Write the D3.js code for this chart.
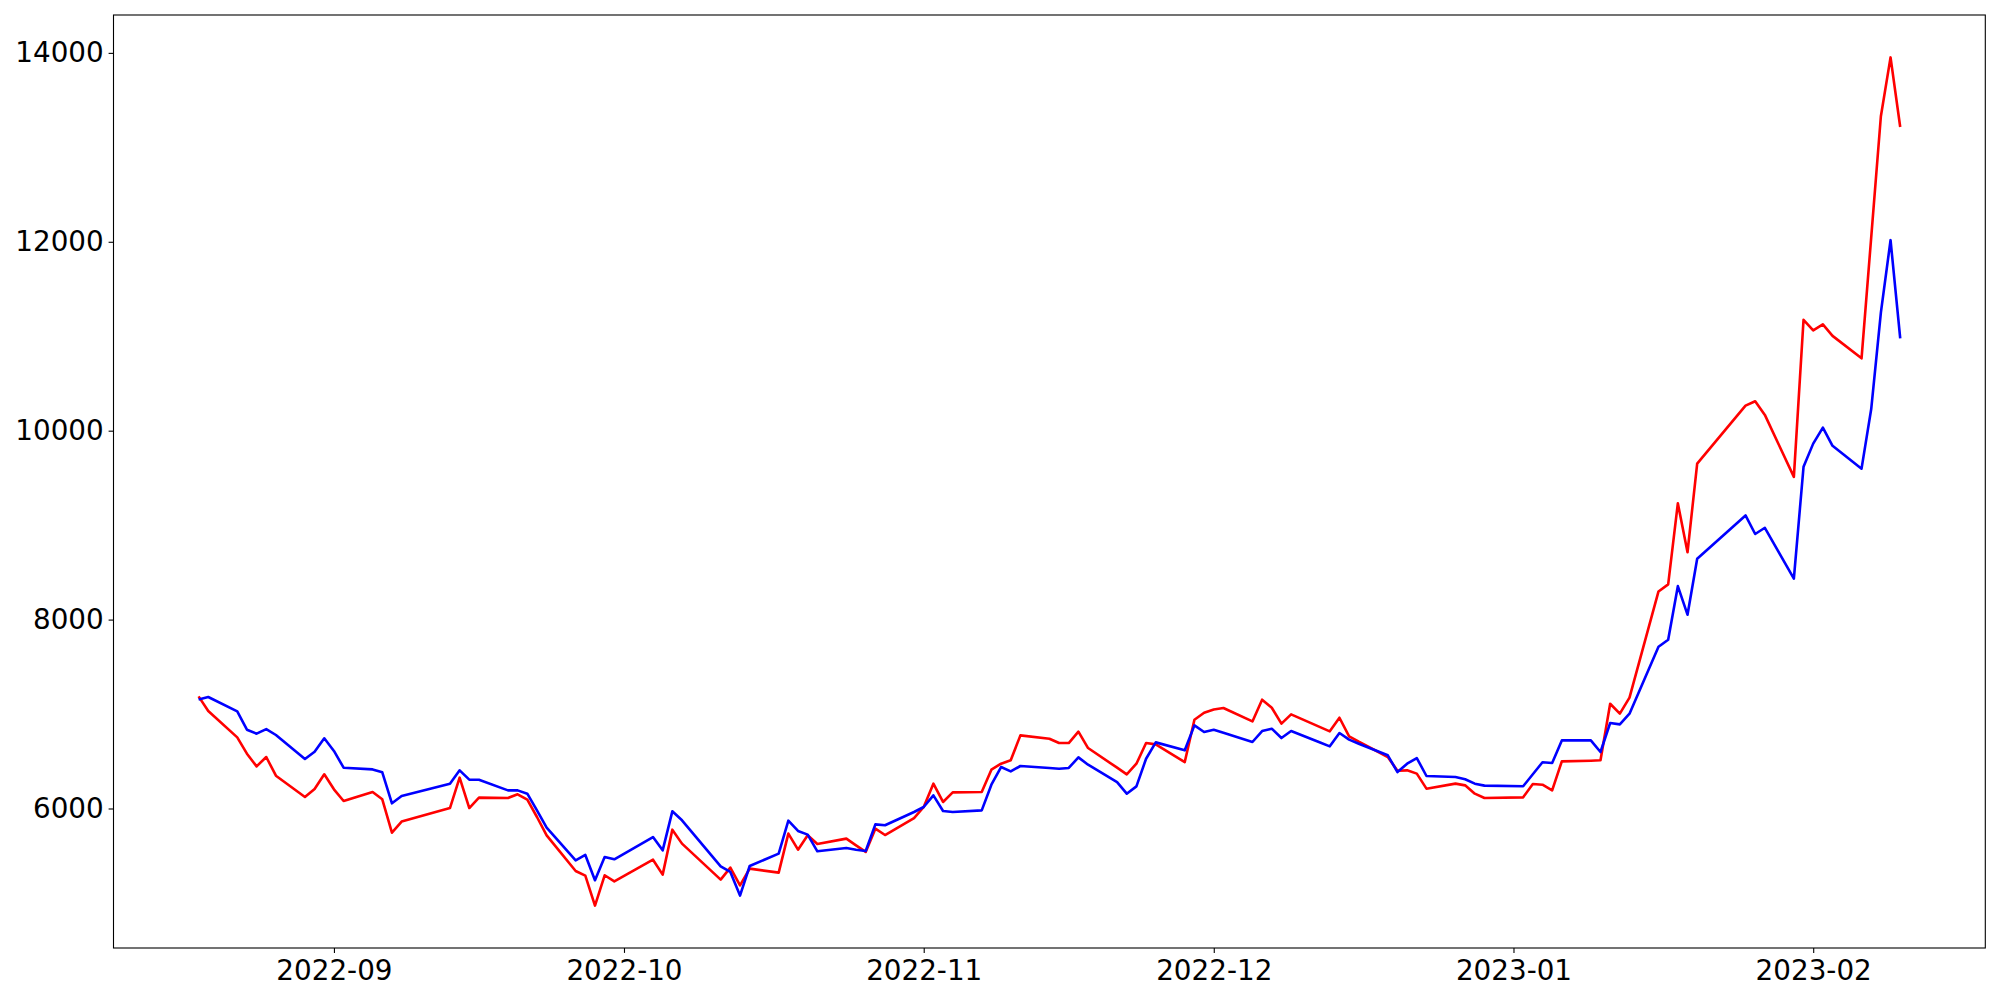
<!DOCTYPE html>
<html>
<head>
<meta charset="utf-8">
<script src="https://cdn.jsdelivr.net/npm/d3@7"></script>
<style>
  body { margin: 0; background: #fff; }
  .tick text { font-family: "DejaVu Sans", sans-serif; font-size: 27.8px; fill: #000; }
</style>
</head>
<body>
<div id="chart-area"></div>
<script>
var dates = [
  "2022-08-18", "2022-08-19", "2022-08-22", "2022-08-23", "2022-08-24", "2022-08-25", "2022-08-26",
  "2022-08-29", "2022-08-30", "2022-08-31", "2022-09-01", "2022-09-02", "2022-09-05", "2022-09-06",
  "2022-09-07", "2022-09-08", "2022-09-13", "2022-09-14", "2022-09-15", "2022-09-16", "2022-09-19",
  "2022-09-20", "2022-09-21", "2022-09-22", "2022-09-23", "2022-09-26", "2022-09-27", "2022-09-28",
  "2022-09-29", "2022-09-30", "2022-10-04", "2022-10-05", "2022-10-06", "2022-10-07", "2022-10-11",
  "2022-10-12", "2022-10-13", "2022-10-14", "2022-10-17", "2022-10-18", "2022-10-19", "2022-10-20",
  "2022-10-21", "2022-10-24", "2022-10-25", "2022-10-26", "2022-10-27", "2022-10-28", "2022-10-31",
  "2022-11-01", "2022-11-02", "2022-11-03", "2022-11-04", "2022-11-07", "2022-11-08", "2022-11-09",
  "2022-11-10", "2022-11-11", "2022-11-14", "2022-11-15", "2022-11-16", "2022-11-17", "2022-11-18",
  "2022-11-21", "2022-11-22", "2022-11-23", "2022-11-24", "2022-11-25", "2022-11-28", "2022-11-29",
  "2022-11-30", "2022-12-01", "2022-12-02", "2022-12-05", "2022-12-06", "2022-12-07", "2022-12-08",
  "2022-12-09", "2022-12-12", "2022-12-13", "2022-12-14", "2022-12-15", "2022-12-16", "2022-12-19",
  "2022-12-20", "2022-12-21", "2022-12-22", "2022-12-23", "2022-12-26", "2022-12-27", "2022-12-28",
  "2022-12-29", "2023-01-02", "2023-01-03", "2023-01-04", "2023-01-05", "2023-01-06", "2023-01-09",
  "2023-01-10", "2023-01-11", "2023-01-12", "2023-01-13", "2023-01-16", "2023-01-17", "2023-01-18",
  "2023-01-19", "2023-01-20", "2023-01-25", "2023-01-26", "2023-01-27", "2023-01-30", "2023-01-31",
  "2023-02-01", "2023-02-02", "2023-02-03", "2023-02-06", "2023-02-07", "2023-02-08", "2023-02-09",
  "2023-02-10"
];

var redValues = [
  7187, 7032, 6753, 6580, 6446, 6545, 6347, 6122, 6206, 6362, 6203, 6079, 6175, 6097,
  5744, 5861, 6005, 6326, 6005, 6115, 6111, 6150, 6093, 5910, 5716, 5338, 5289, 4972,
  5293, 5229, 5458, 5300, 5776, 5628, 5247, 5374, 5187, 5363, 5321, 5734, 5564, 5716,
  5624, 5681, 5610, 5540, 5786, 5719, 5899, 6016, 6263, 6069, 6171, 6174, 6411, 6474,
  6510, 6774, 6739, 6693, 6693, 6813, 6640, 6432, 6361, 6474, 6693, 6679, 6492, 6940,
  7014, 7049, 7064, 6922, 7152, 7067, 6898, 6997, 6862, 6817, 6961, 6764, 6707, 6545,
  6400, 6404, 6369, 6210, 6263, 6245, 6157, 6111, 6118, 6259, 6252, 6192, 6499, 6506,
  6510, 7109, 7004, 7173, 8298, 8373, 9231, 8713, 9651, 10265, 10312, 10167, 9511, 11174,
  11061, 11125, 11004, 10766, 12047, 13329, 13952, 13215
];

var blueValues = [
  7155, 7180, 7028, 6834, 6792, 6841, 6778, 6524, 6601, 6743, 6609, 6432, 6414, 6383,
  6055, 6132, 6263, 6404, 6305, 6305, 6192, 6192, 6157, 5980, 5797, 5451, 5508, 5240,
  5487, 5462, 5698, 5557, 5970, 5875, 5388, 5328, 5078, 5391, 5522, 5871, 5762, 5723,
  5547, 5582, 5564, 5550, 5832, 5822, 5963, 6016, 6139, 5973, 5963, 5980, 6252, 6439,
  6393, 6450, 6429, 6421, 6429, 6541, 6464, 6280, 6157, 6234, 6527, 6700, 6616, 6880,
  6810, 6834, 6803, 6704, 6820, 6845, 6746, 6820, 6698, 6658, 6799, 6729, 6686, 6563,
  6386, 6474, 6534, 6344, 6333, 6309, 6263, 6242, 6235, 6362, 6489, 6481, 6721, 6721,
  6598, 6905, 6891, 7004, 7712, 7787, 8354, 8052, 8645, 9103, 8906, 8972, 8434, 9617,
  9863, 10033, 9840, 9598, 10229, 11250, 12017, 10978
];

var yTicks = [6000, 8000, 10000, 12000, 14000];
var xTicks = ["2022-09-01", "2022-10-01", "2022-11-01", "2022-12-01", "2023-01-01", "2023-02-01"];

var margin = {
    top: 15,
    right: 14.7,
    bottom: 52,
    left: 113.5
  },
  width = 2000 - margin.left - margin.right,
  height = 1000 - margin.top - margin.bottom;

var parseDate = d3.timeParse("%Y-%m-%d");
var days = dates.map(parseDate);

var x0 = d3.min(days), x1 = d3.max(days);
var xPad = (x1 - x0) * 0.05;
var x = d3.scaleTime()
  .domain([new Date(+x0 - xPad), new Date(+x1 + xPad)])
  .range([0, width]);

var allValues = redValues.concat(blueValues);
var y0 = d3.min(allValues), y1 = d3.max(allValues);
var yPad = (y1 - y0) * 0.05;
var y = d3.scaleLinear()
  .domain([y0 - yPad, y1 + yPad])
  .range([height, 0]);

var svg = d3.select("#chart-area").append("svg")
  .attr("width", 2000)
  .attr("height", 1000)
  .append("g")
  .attr("transform", "translate(" + margin.left + "," + margin.top + ")");

var xAxis = d3.axisBottom(x)
  .tickValues(xTicks.map(parseDate))
  .tickFormat(d3.timeFormat("%Y-%m"))
  .tickSize(4.9)
  .tickPadding(7);

var yAxis = d3.axisLeft(y)
  .tickValues(yTicks)
  .tickFormat(d3.format("d"))
  .tickSize(4.9)
  .tickPadding(4.9);

var xAxisGroup = svg.append("g")
  .attr("transform", "translate(0," + height + ")")
  .call(xAxis);

var yAxisGroup = svg.append("g")
  .call(yAxis);

[xAxisGroup, yAxisGroup].forEach(function(g) {
  g.select(".domain").remove();
  g.selectAll(".tick line").attr("stroke", "#000").attr("stroke-width", 1.1);
});

var line = function(values) {
  return d3.line()
    .x(function(d, i) { return x(days[i]); })
    .y(function(d) { return y(d); })(values);
};

svg.append("path")
  .attr("d", line(redValues))
  .attr("fill", "none")
  .attr("stroke", "#ff0000")
  .attr("stroke-width", 2.6)
  .attr("stroke-linejoin", "round");

svg.append("path")
  .attr("d", line(blueValues))
  .attr("fill", "none")
  .attr("stroke", "#0000ff")
  .attr("stroke-width", 2.6)
  .attr("stroke-linejoin", "round");

svg.append("rect")
  .attr("x", 0)
  .attr("y", 0)
  .attr("width", width)
  .attr("height", height)
  .attr("fill", "none")
  .attr("stroke", "#000")
  .attr("stroke-width", 1.1);
</script>
</body>
</html>
